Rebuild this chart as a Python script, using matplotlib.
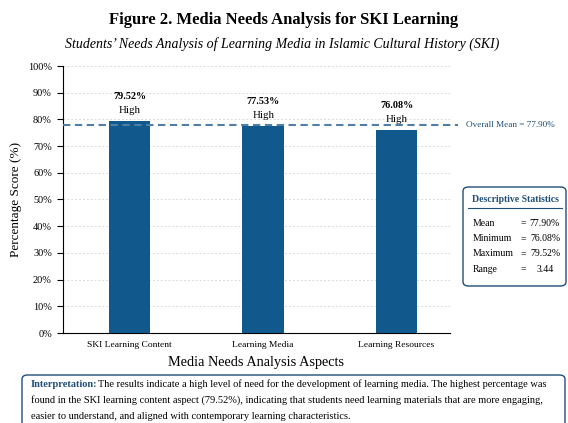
import matplotlib.pyplot as plt
from matplotlib.patches import FancyBboxPatch

# data
aspects = ['SKI Learning Content', 'Learning Media', 'Learning Resources']
scores = [79.52, 77.53, 76.08]
levels = ['High', 'High', 'High']
overall_mean = 77.90
stat_names = ['Mean', 'Minimum', 'Maximum', 'Range']
stat_values = ['77.90%', '76.08%', '79.52%', '3.44']

plt.rcParams['font.family'] = ['Liberation Serif', 'DejaVu Serif']

bar_color = '#11598c'
dark_blue = '#1f4e79'
mean_color = '#4f7ea8'

W, H = 568.0, 423.0
fig = plt.figure(figsize=(5.68, 4.23), dpi=100)
ax = fig.add_axes([63 / W, 1 - 333 / H, 387 / W, 267 / H])

x = range(len(aspects))
ax.bar(x, scores, width=0.31, color=bar_color, zorder=3)

# value labels
for i, (s, lv) in enumerate(zip(scores, levels)):
    ax.annotate('{:.2f}%'.format(s), (i, s), xytext=(0, 17.5), textcoords='offset points',
                ha='center', va='center', fontsize=7.3, fontweight='bold')
    ax.annotate(lv, (i, s), xytext=(0, 7.3), textcoords='offset points',
                ha='center', va='center', fontsize=7.8)

# mean line
ax.plot([-0.5, 2.46], [overall_mean, overall_mean], linestyle=(0, (3.5, 2.2)),
        color=mean_color, linewidth=1.5, clip_on=False, zorder=4)
ax.text(2.52, overall_mean, 'Overall Mean = {:.2f}%'.format(overall_mean),
        color=dark_blue, fontsize=6.6, va='center', ha='left')

ax.set_xlim(-0.5, 2.4)
ax.set_ylim(0, 100)
ax.set_yticks(range(0, 101, 10))
ax.set_yticklabels(['{}%'.format(v) for v in range(0, 101, 10)], fontsize=7.4)
ax.set_xticks(list(x))
ax.set_xticklabels(aspects, fontsize=6.8)
ax.tick_params(axis='x', length=0, pad=6)
ax.tick_params(axis='y', length=4, pad=4)
ax.grid(axis='y', linestyle=(0, (2, 2)), color='#d9d9d9', linewidth=0.7, zorder=0)
ax.spines['top'].set_visible(False)
ax.spines['right'].set_visible(False)
ax.set_xlabel('Media Needs Analysis Aspects', fontsize=10.3, labelpad=5)
ax.set_ylabel('Percentage Score (%)', fontsize=9.5)
ax.yaxis.set_label_coords((22 - 63) / 387, 0.5)

# titles
fig.text(0.5, 1 - 20 / H, 'Figure 2. Media Needs Analysis for SKI Learning', ha='center', va='center',
         fontsize=12, fontweight='bold')
fig.text(0.497, 1 - 44 / H, 'Students\u2019 Needs Analysis of Learning Media in Islamic Cultural History (SKI)',
         ha='center', va='center', fontsize=10, style='italic')

# descriptive stats box
box = FancyBboxPatch((463 / W, 1 - 286 / H), 103 / W, 99 / H,
                     boxstyle='round,pad=0,rounding_size=0.01', transform=fig.transFigure,
                     facecolor='white', edgecolor=dark_blue, linewidth=1.0)
fig.patches.append(box)
fig.text(515 / W, 1 - 199 / H, 'Descriptive Statistics', ha='center', va='center',
         fontsize=7, fontweight='bold', color=dark_blue)
fig.add_artist(plt.Line2D([468 / W, 562 / W], [1 - 208 / H, 1 - 208 / H],
                          transform=fig.transFigure, color=dark_blue, linewidth=0.8))
for k, (n, v) in enumerate(zip(stat_names, stat_values)):
    yy = 1 - (223 + k * 15.4) / H
    fig.text(473 / W, yy, n, ha='left', va='center', fontsize=7)
    fig.text(521 / W, yy, '=', ha='left', va='center', fontsize=7)
    fig.text(545 / W, yy, v, ha='center', va='center', fontsize=7)

# interpretation box
box2 = FancyBboxPatch((22 / W, 1 - 430 / H), 543 / W, 55 / H,
                      boxstyle='round,pad=0,rounding_size=0.01', transform=fig.transFigure,
                      facecolor='white', edgecolor=dark_blue, linewidth=1.0)
fig.patches.append(box2)
fig.text(31 / W, 1 - 384 / H, 'Interpretation:', ha='left', va='center',
         fontsize=7.5, fontweight='bold', color=dark_blue)
fig.text(98 / W, 1 - 384 / H,
         'The results indicate a high level of need for the development of learning media. The highest percentage was',
         ha='left', va='center', fontsize=7.5)
fig.text(31 / W, 1 - 400 / H,
         'found in the SKI learning content aspect (79.52%), indicating that students need learning materials that are more engaging,',
         ha='left', va='center', fontsize=7.5)
fig.text(31 / W, 1 - 416 / H,
         'easier to understand, and aligned with contemporary learning characteristics.',
         ha='left', va='center', fontsize=7.5)

plt.savefig('out.png', dpi=100)
